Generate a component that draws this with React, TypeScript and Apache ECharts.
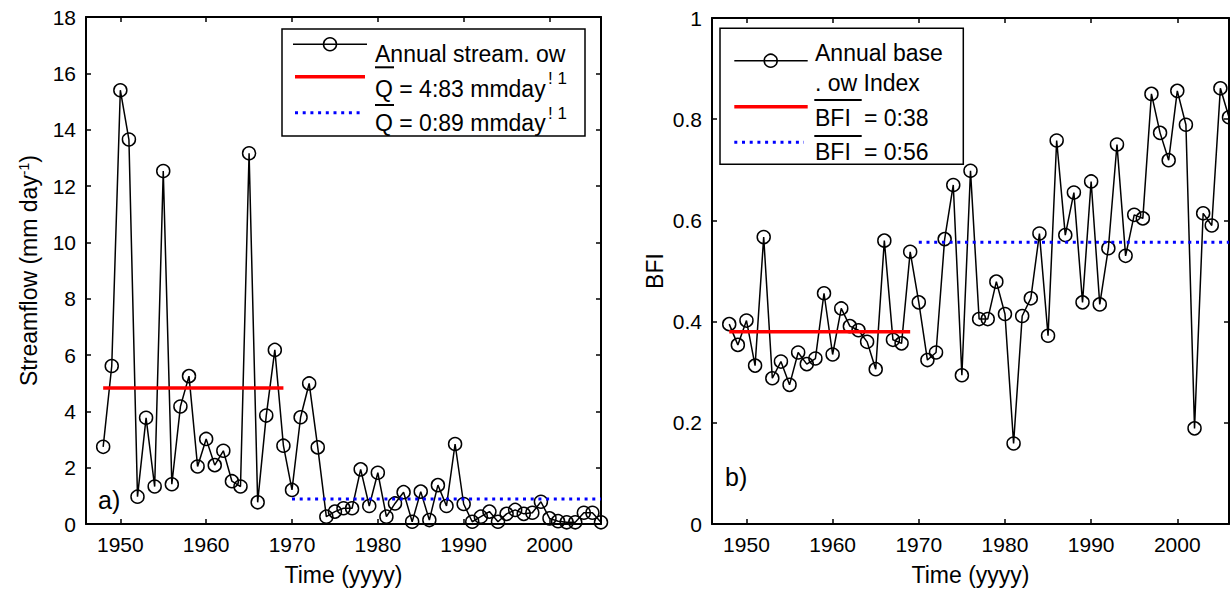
import React, { useEffect, useRef } from "react";
import * as echarts from "echarts";

const FONT = "'Liberation Sans', Arial, Helvetica, sans-serif";

const years = [
  1948, 1949, 1950, 1951, 1952, 1953, 1954, 1955, 1956, 1957, 1958, 1959,
  1960, 1961, 1962, 1963, 1964, 1965, 1966, 1967, 1968, 1969, 1970, 1971,
  1972, 1973, 1974, 1975, 1976, 1977, 1978, 1979, 1980, 1981, 1982, 1983,
  1984, 1985, 1986, 1987, 1988, 1989, 1990, 1991, 1992, 1993, 1994, 1995,
  1996, 1997, 1998, 1999, 2000, 2001, 2002, 2003, 2004, 2005, 2006,
];

const streamflow = [
  2.74, 5.61, 15.4, 13.65, 0.97, 3.77, 1.33, 12.53, 1.41, 4.17, 5.25, 2.04,
  3.02, 2.09, 2.6, 1.52, 1.33, 13.16, 0.77, 3.85, 6.18, 2.78, 1.21, 3.79,
  4.99, 2.72, 0.26, 0.44, 0.56, 0.56, 1.94, 0.64, 1.82, 0.26, 0.73, 1.13,
  0.08, 1.15, 0.14, 1.38, 0.64, 2.84, 0.71, 0.08, 0.26, 0.44, 0.08, 0.36,
  0.5, 0.36, 0.4, 0.79, 0.2, 0.1, 0.06, 0.06, 0.4, 0.4, 0.06,
];

const baseflowIndex = [
  0.395, 0.354, 0.402, 0.313, 0.567, 0.288, 0.321, 0.275, 0.339, 0.316, 0.327,
  0.456, 0.335, 0.426, 0.391, 0.383, 0.36, 0.306, 0.56, 0.364, 0.357, 0.538,
  0.438, 0.324, 0.339, 0.563, 0.67, 0.294, 0.698, 0.405, 0.405, 0.479, 0.415,
  0.159, 0.411, 0.446, 0.574, 0.372, 0.758, 0.571, 0.655, 0.438, 0.677, 0.434,
  0.545, 0.75, 0.53, 0.611, 0.604, 0.85, 0.773, 0.719, 0.856, 0.789, 0.189,
  0.614, 0.59, 0.861, 0.804,
];

const xTickYears = [1950, 1960, 1970, 1980, 1990, 2000];
const xRange = [1946, 2006];
const periodEarly = [1948, 1969];
const periodLate = [1970, 2006];
const flowMeans = [4.83, 0.89];
const bfiMeans = [0.38, 0.557];
const flowAxis = [0, 18, 2];
const bfiAxis = [0, 1, 0.2];

const legendFlowText = ["Annual stream. ow", "Q = 4:83 mmday", "Q = 0:89 mmday", "! 1"];
const legendBfiText = ["Annual base", ". ow Index", "BFI", "= 0:38", "= 0:56"];
const panelLabels = ["a)", "b)"];

function makeXAxes(gridIndex: number) {
  const base: any = {
    gridIndex,
    type: "value",
    min: xRange[0],
    max: xRange[1],
    splitLine: { show: false },
    axisLine: { show: true, onZero: false, lineStyle: { color: "#000", width: 2 } },
    axisTick: {
      show: true,
      inside: true,
      length: 5,
      customValues: xTickYears,
      lineStyle: { color: "#000", width: 1.5 },
    },
  };
  return [
    {
      ...base,
      position: "bottom",
      axisLabel: {
        show: true,
        customValues: xTickYears,
        color: "#000",
        fontSize: 21,
        fontFamily: FONT,
        margin: 10,
        formatter: (v: number) => String(Math.round(v)),
      },
      name: "Time (yyyy)",
      nameLocation: "middle",
      nameGap: 39,
      nameMoveOverlap: false,
      nameTextStyle: { color: "#000", fontSize: 23, fontFamily: FONT },
    },
    { ...base, position: "top", axisLabel: { show: false } },
  ];
}

function makeYAxes(gridIndex: number, ax: number[], name: string, rich: any) {
  const base: any = {
    gridIndex,
    type: "value",
    min: ax[0],
    max: ax[1],
    interval: ax[2],
    splitLine: { show: false },
    axisLine: { show: true, onZero: false, lineStyle: { color: "#000", width: 2 } },
    axisTick: { show: true, inside: true, length: 5, lineStyle: { color: "#000", width: 1.5 } },
  };
  return [
    {
      ...base,
      position: "left",
      axisLabel: {
        show: true,
        color: "#000",
        fontSize: 21,
        fontFamily: FONT,
        margin: 10,
        formatter: (v: number) => String(Math.round(v * 10) / 10),
      },
      name,
      nameLocation: "middle",
      nameGap: 46,
      nameMoveOverlap: false,
      nameTextStyle: { color: "#000", fontSize: 23, fontFamily: FONT, rich },
    },
    { ...base, position: "right", axisLabel: { show: false } },
  ];
}

function dataSeries(xi: number, yi: number, values: number[]) {
  return {
    type: "line",
    xAxisIndex: xi,
    yAxisIndex: yi,
    data: years.map((y, i) => [y, values[i]]),
    symbol: "circle",
    symbolSize: 13,
    showSymbol: true,
    clip: false,
    lineStyle: { color: "#000", width: 1.5 },
    itemStyle: { color: "rgba(0,0,0,0)", borderColor: "#000", borderWidth: 1.5 },
    emphasis: { disabled: true },
    z: 2,
  };
}

function meanSeries(xi: number, yi: number, period: number[], value: number, dotted: boolean) {
  return {
    type: "line",
    xAxisIndex: xi,
    yAxisIndex: yi,
    data: [
      [period[0], value],
      [period[1], value],
    ],
    symbol: "none",
    clip: false,
    lineStyle: dotted
      ? { color: "#0000ff", width: 3, type: [3, 4.7], cap: "butt" }
      : { color: "#ff0000", width: 3.5 },
    emphasis: { disabled: true },
    z: 3,
  };
}

const txt = (text: string, x: number, y: number, size = 23) => ({
  type: "text",
  x,
  y,
  z: 101,
  silent: true,
  style: { text, fill: "#000", fontSize: size, fontFamily: FONT, align: "left", verticalAlign: "middle" },
});
const seg = (x1: number, x2: number, y: number, stroke: string, lineWidth: number, lineDash?: number[]) => ({
  type: "line",
  z: 101,
  silent: true,
  shape: { x1, y1: y, x2, y2: y },
  style: { stroke, lineWidth, lineDash: lineDash || null, lineCap: "butt" },
});
const mark = (cx: number, cy: number) => ({
  type: "circle",
  z: 102,
  silent: true,
  shape: { cx, cy, r: 6.5 },
  style: { fill: "none", stroke: "#000", lineWidth: 1.5 },
});
const box = (x: number, y: number, width: number, height: number) => ({
  type: "rect",
  z: 100,
  silent: true,
  shape: { x, y, width, height },
  style: { fill: "#fff", stroke: "#000", lineWidth: 1.5 },
});

export default function App() {
  const ref = useRef<HTMLDivElement>(null);
  useEffect(() => {
    if (!ref.current) return;
    const chart = echarts.init(ref.current, null, { renderer: "svg" });
    const graphics: any[] = [
      // legend a
      box(282, 29, 303, 107),
      seg(293, 367, 44.3, "#000", 1.5),
      mark(330, 44.3),
      txt(legendFlowText[0], 375, 54),
      seg(295, 365, 76.7, "#ff0000", 3.5),
      seg(375, 394, 67.3, "#000", 2),
      txt(legendFlowText[1], 375, 88.5),
      txt(legendFlowText[3], 548, 78, 17),
      seg(295, 362, 112.7, "#0000ff", 3, [3, 4.7]),
      seg(375, 394, 105, "#000", 2),
      txt(legendFlowText[2], 375, 123),
      txt(legendFlowText[3], 548, 113, 17),
      // legend b
      box(720, 28.3, 243.3, 136),
      seg(734.3, 807.7, 60.7, "#000", 1.5),
      mark(770.7, 60.7),
      txt(legendBfiText[0], 815, 53),
      txt(legendBfiText[1], 815, 83),
      seg(734.3, 807.7, 106.7, "#ff0000", 3.5),
      seg(814.3, 861.7, 100, "#000", 2),
      txt(legendBfiText[2], 815, 117.5),
      txt(legendBfiText[3], 864, 117.5),
      seg(734.3, 804, 142.3, "#0000ff", 3, [3, 4.7]),
      seg(814.3, 861.7, 136, "#000", 2),
      txt(legendBfiText[2], 815, 151.7),
      txt(legendBfiText[4], 864, 151.7),
      // panel labels
      txt(panelLabels[0], 98, 500, 25),
      txt(panelLabels[1], 725, 477, 25),
    ];
    chart.setOption({
      animation: false,
      backgroundColor: "#fff",
      grid: [
        { left: 86, top: 17, width: 515, height: 507, outerBoundsMode: "none", containLabel: false },
        { left: 712, top: 18, width: 517, height: 506, outerBoundsMode: "none", containLabel: false },
      ],
      xAxis: [...makeXAxes(0), ...makeXAxes(1)],
      yAxis: [
        ...makeYAxes(0, flowAxis, "Streamflow (mm day{sup|-1})", {
          sup: { fontSize: 14, fontFamily: FONT, color: "#000", verticalAlign: "top", lineHeight: 14 },
        }),
        ...makeYAxes(1, bfiAxis, "BFI", {}),
      ],
      series: [
        dataSeries(0, 0, streamflow),
        meanSeries(0, 0, periodEarly, flowMeans[0], false),
        meanSeries(0, 0, periodLate, flowMeans[1], true),
        dataSeries(2, 2, baseflowIndex),
        meanSeries(2, 2, periodEarly, bfiMeans[0], false),
        meanSeries(2, 2, periodLate, bfiMeans[1], true),
      ],
      graphic: { elements: graphics },
    });
    return () => chart.dispose();
  }, []);
  return (
    <div
      ref={ref}
      style={{ position: "fixed", left: 0, top: 0, width: "1230px", height: "594px", background: "#fff" }}
    />
  );
}
